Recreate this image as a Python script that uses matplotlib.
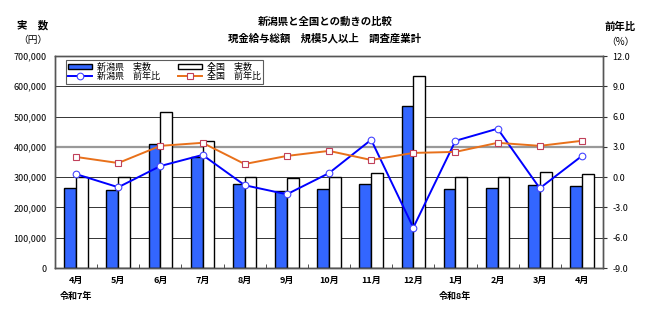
import matplotlib
matplotlib.use("Agg")
import matplotlib.pyplot as plt
import numpy as np
from matplotlib.patches import Patch
from matplotlib.lines import Line2D

plt.rcParams['font.family'] = ['Noto Sans CJK JP', 'DejaVu Sans']

months = ["4月", "5月", "6月", "7月", "8月", "9月", "10月", "11月", "12月", "1月", "2月", "3月", "4月"]
niigata_amt = [263000, 258000, 411000, 367000, 277000, 254000, 261000, 277000, 535000, 261000, 265000, 275000, 270000]
zenkoku_amt = [301000, 301000, 514000, 419000, 301000, 298000, 301000, 315000, 634000, 301000, 299000, 318000, 311000]
niigata_yoy = [0.3, -1.0, 1.1, 2.2, -0.8, -1.7, 0.4, 3.7, -5.0, 3.6, 4.8, -1.1, 2.1]
zenkoku_yoy = [2.0, 1.4, 3.1, 3.4, 1.3, 2.1, 2.6, 1.7, 2.4, 2.5, 3.4, 3.1, 3.6]

x = np.arange(len(months))
w = 0.28

fig = plt.figure(figsize=(6.5, 3.12), dpi=100)
ax = fig.add_axes([55 / 650, 1 - 268 / 312, 548 / 650, 212 / 312])
ax2 = ax.twinx()

# grid
for v in range(100000, 700001, 100000):
    if v == 400000:
        ax.axhline(v, color="#999999", lw=1.6, zorder=0)
    else:
        ax.axhline(v, color="#333333", lw=0.7, zorder=0)

ax.bar(x - w / 2, niigata_amt, w, color="#3366FF", edgecolor="black", lw=1.0, zorder=2)
ax.bar(x + w / 2, zenkoku_amt, w, color="white", edgecolor="black", lw=1.0, zorder=2)

ax2.plot(x, niigata_yoy, color="#0000FF", lw=1.4, marker="o", ms=4.8,
         mfc="white", mec="#4444FF", mew=0.8, zorder=3)
ax2.plot(x, zenkoku_yoy, color="#E8701A", lw=1.4, marker="s", ms=4.6,
         mfc="white", mec="#C0405A", mew=0.8, zorder=3)

ax.set_xlim(-0.5, len(months) - 0.5)
ax.set_ylim(0, 700000)
ax2.set_ylim(-9, 12)
ax.set_yticks(range(0, 700001, 100000))
ax.set_yticklabels([f"{v:,}" for v in range(0, 700001, 100000)], fontsize=6.5)
ax2.set_yticks(np.arange(-9, 12.1, 3))
ax2.set_yticklabels([f"{v:.1f}" for v in np.arange(-9, 12.1, 3)], fontsize=6.5)

ax.set_xticks(x)
ax.set_xticklabels(months, fontsize=6.5, fontweight="bold")
ax.set_xticks(np.arange(-0.5, len(months), 1), minor=True)
ax.tick_params(axis="x", which="major", length=0, pad=6)
ax.tick_params(axis="x", which="minor", length=3, direction="in", color="#333333")
ax.tick_params(axis="y", length=0, pad=6)
ax2.tick_params(axis="y", length=3, direction="out", pad=4, color="#333333")

for a in (ax, ax2):
    for s in a.spines.values():
        s.set_color("#555555")
        s.set_linewidth(1.0)
ax.spines["bottom"].set_color("#333333")
ax.set_zorder(0)
ax2.set_zorder(1)
ax2.patch.set_visible(False)

fig.text(76 / 650, 1 - 296 / 312, "令和7年", fontsize=6.5, fontweight="bold", ha="center", va="center")
fig.text(455 / 650, 1 - 296 / 312, "令和8年", fontsize=6.5, fontweight="bold", ha="center", va="center")

fig.text(325 / 650, 1 - 22 / 312, "新潟県と全国との動きの比較", fontsize=7.5, fontweight="bold", ha="center", va="center")
fig.text(325 / 650, 1 - 38 / 312, "現金給与総額　規模5人以上　調査産業計", fontsize=7.5, fontweight="bold", ha="center", va="center")
fig.text(33 / 650, 1 - 25 / 312, "実　数", fontsize=7.5, fontweight="bold", ha="center", va="center")
fig.text(33 / 650, 1 - 40 / 312, "（円）", fontsize=7, ha="center", va="center")
fig.text(620 / 650, 1 - 27 / 312, "前年比", fontsize=7.5, fontweight="bold", ha="center", va="center")
fig.text(620 / 650, 1 - 42 / 312, "（%）", fontsize=7, ha="center", va="center")

handles = [
    Patch(facecolor="#3366FF", edgecolor="black", lw=1.0),
    Line2D([], [], color="#0000FF", lw=1.4, marker="o", ms=4.8, mfc="white", mec="#4444FF", mew=0.8),
    Patch(facecolor="white", edgecolor="black", lw=1.0),
    Line2D([], [], color="#E8701A", lw=1.4, marker="s", ms=4.6, mfc="white", mec="#C0405A", mew=0.8),
]
labels = ["新潟県　実数", "新潟県　前年比", "全国　実数", "全国　前年比"]
leg = ax2.legend(handles, labels, ncol=2, loc="upper left", bbox_to_anchor=(11 / 548, 1 - 4 / 212),
                 fontsize=6.5, frameon=True, fancybox=False, edgecolor="#333333",
                 handlelength=2.6, handleheight=0.5, columnspacing=2.0, labelspacing=0.1,
                 borderpad=0.25, handletextpad=0.6, borderaxespad=0)
leg.get_frame().set_linewidth(0.8)
leg.set_zorder(5)

fig.savefig("out.png", dpi=100)
